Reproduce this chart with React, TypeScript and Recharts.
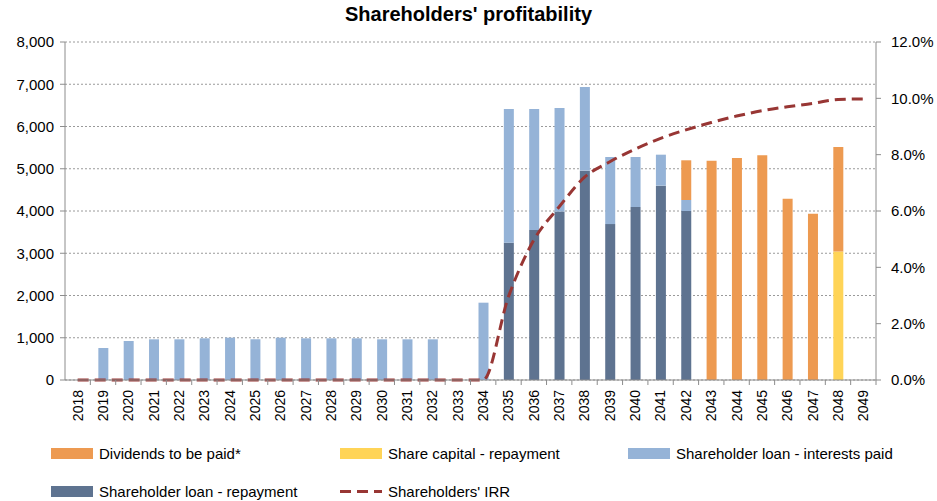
import React from "react";
import {
  ComposedChart,
  Bar,
  Line,
  XAxis,
  YAxis,
  CartesianGrid,
  Legend,
} from "recharts";

const years: string[] = [
  "2018", "2019", "2020", "2021", "2022", "2023", "2024", "2025",
  "2026", "2027", "2028", "2029", "2030", "2031", "2032", "2033",
  "2034", "2035", "2036", "2037", "2038", "2039", "2040", "2041",
  "2042", "2043", "2044", "2045", "2046", "2047", "2048", "2049",
];

const loanRepayment: number[] = [
  0, 0, 0, 0, 0, 0, 0, 0, 0, 0, 0, 0, 0, 0, 0, 0,
  0, 3250, 3550, 3990, 4955, 3690, 4095, 4600, 4000, 0, 0, 0, 0, 0, 0, 0,
];

const loanInterests: number[] = [
  0, 757, 923, 963, 963, 986, 1002, 963, 1002, 986, 986, 986, 963, 963, 963, 0,
  1830, 3164, 2864, 2448, 1980, 1588, 1183, 733, 260, 0, 0, 0, 0, 0, 0, 0,
];

const capitalRepayment: number[] = [
  0, 0, 0, 0, 0, 0, 0, 0, 0, 0, 0, 0, 0, 0, 0, 0,
  0, 0, 0, 0, 0, 0, 0, 0, 0, 0, 0, 0, 0, 0, 3040, 0,
];

const dividends: number[] = [
  0, 0, 0, 0, 0, 0, 0, 0, 0, 0, 0, 0, 0, 0, 0, 0,
  0, 0, 0, 0, 0, 0, 0, 0, 940, 5190, 5255, 5318, 4292, 3937, 2475, 0,
];

const irr: number[] = [
  0, 0, 0, 0, 0, 0, 0, 0, 0, 0, 0, 0, 0, 0, 0, 0,
  0, 0.0296, 0.0497, 0.0615, 0.072, 0.0775, 0.082, 0.0858,
  0.0888, 0.0914, 0.0937, 0.0956, 0.097, 0.0982, 0.0996, 0.0998,
];

const leftTicks = [0, 1000, 2000, 3000, 4000, 5000, 6000, 7000, 8000];
const rightTicks = [0, 0.02, 0.04, 0.06, 0.08, 0.1, 0.12];

const data = years.map((year, i) => ({
  year,
  repayment: loanRepayment[i],
  interests: loanInterests[i],
  capital: capitalRepayment[i],
  dividends: dividends[i],
  irr: irr[i],
}));

const FONT = "'Liberation Sans Narrow', 'Liberation Sans', Arial, sans-serif";
const AXIS = "#8c8c8c";

const C_DIV = "#ED9A51";
const C_CAP = "#FFD457";
const C_INT = "#95B3D7";
const C_REP = "#5E7390";
const C_IRR = "#983634";

const WIDTH = 937;
const HEIGHT = 501;
const LEFT_W = 65;
const RIGHT_W = 61;
const BAND = (WIDTH - LEFT_W - RIGHT_W) / years.length;

const XTick = (props: any) => {
  const { x, y, payload } = props;
  return (
    <g>
      <line x1={x + BAND / 2} x2={x + BAND / 2} y1={y - 8} y2={y - 3} stroke={AXIS} />
      <text
        x={x}
        y={y + 2}
        transform={`rotate(-90 ${x} ${y + 2})`}
        textAnchor="end"
        dy="0.35em"
        fontSize={14}
        fontFamily={FONT}
        fill="#000"
      >
        {payload.value}
      </text>
    </g>
  );
};

const legendItems = [
  { label: "Dividends to be paid*", color: C_DIV, kind: "box", left: 51, top: 16 },
  { label: "Share capital - repayment", color: C_CAP, kind: "box", left: 340, top: 16 },
  { label: "Shareholder loan - interests paid", color: C_INT, kind: "box", left: 628, top: 16 },
  { label: "Shareholder loan - repayment", color: C_REP, kind: "box", left: 51, top: 54 },
  { label: "Shareholders' IRR", color: C_IRR, kind: "line", left: 340, top: 54 },
];

const LegendContent = () => (
  <div style={{ position: "relative", width: WIDTH, height: 71, fontFamily: FONT, fontSize: 15 }}>
    {legendItems.map((it) => (
      <div
        key={it.label}
        style={{ position: "absolute", left: it.left, top: it.top, display: "flex", alignItems: "center", height: 14 }}
      >
        {it.kind === "box" ? (
          <div style={{ width: 42, height: 11, background: it.color }} />
        ) : (
          <svg width={42} height={11}>
            <line x1={0} x2={42} y1={5.5} y2={5.5} stroke={it.color} strokeWidth={3} strokeDasharray="11 6" />
          </svg>
        )}
        <span style={{ marginLeft: 6, color: "#000", whiteSpace: "nowrap" }}>{it.label}</span>
      </div>
    ))}
  </div>
);

const App: React.FC = () => {
  return (
    <div style={{ position: "absolute", left: 0, top: 0, width: WIDTH, height: HEIGHT, background: "#fff" }}>
      <div
        style={{
          position: "absolute",
          top: 3,
          left: 0,
          width: WIDTH,
          textAlign: "center",
          fontFamily: FONT,
          fontWeight: "bold",
          fontSize: 20,
          color: "#000",
        }}
      >
        Shareholders' profitability
      </div>
      <ComposedChart
        width={WIDTH}
        height={HEIGHT}
        data={data}
        margin={{ top: 42, right: 0, bottom: 0, left: 0 }}
        barSize={10}
      >
        <CartesianGrid vertical={false} stroke="#9a9a9a" strokeDasharray="2 2" yAxisId="left" />
        <XAxis
          dataKey="year"
          interval={0}
          height={50}
          stroke={AXIS}
          tickLine={false}
          tickSize={5}
          tickMargin={3}
          tick={<XTick />}
        />
        <YAxis
          yAxisId="left"
          width={LEFT_W}
          domain={[0, 8000]}
          ticks={leftTicks}
          interval={0}
          stroke={AXIS}
          tickSize={5}
          tickMargin={6}
          tick={{ fill: "#000", fontSize: 15, fontFamily: FONT }}
          tickFormatter={(v: number) => v.toLocaleString("en-US")}
        />
        <YAxis
          yAxisId="right"
          orientation="right"
          width={RIGHT_W}
          domain={[0, 0.12]}
          ticks={rightTicks}
          interval={0}
          stroke={AXIS}
          tickSize={5}
          tickMargin={10}
          tick={{ fill: "#000", fontSize: 15, fontFamily: FONT }}
          tickFormatter={(v: number) => `${(v * 100).toFixed(1)}%`}
        />
        <Legend
          verticalAlign="bottom"
          content={<LegendContent />}
          wrapperStyle={{ position: "absolute", left: 0, top: 430, width: WIDTH, height: 71 }}
        />
        <Bar yAxisId="left" dataKey="repayment" stackId="s" fill={C_REP} name="Shareholder loan - repayment" isAnimationActive={false} />
        <Bar yAxisId="left" dataKey="interests" stackId="s" fill={C_INT} name="Shareholder loan - interests paid" isAnimationActive={false} />
        <Bar yAxisId="left" dataKey="capital" stackId="s" fill={C_CAP} name="Share capital - repayment" isAnimationActive={false} />
        <Bar yAxisId="left" dataKey="dividends" stackId="s" fill={C_DIV} name="Dividends to be paid*" isAnimationActive={false} />
        <Line
          yAxisId="right"
          type="monotone"
          dataKey="irr"
          stroke={C_IRR}
          strokeWidth={3}
          strokeDasharray="11 6"
          dot={false}
          name="Shareholders' IRR"
          isAnimationActive={false}
        />
      </ComposedChart>
    </div>
  );
};

export default App;
